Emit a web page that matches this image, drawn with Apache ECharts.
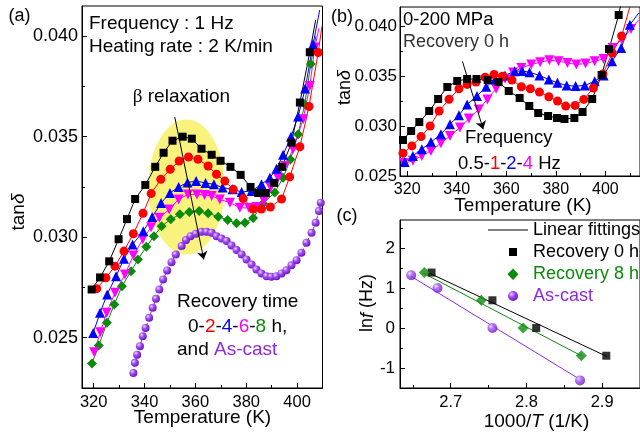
<!DOCTYPE html>
<html>
<head>
<meta charset="utf-8">
<script src="https://cdn.jsdelivr.net/npm/echarts@6/dist/echarts.min.js"></script>
<style>
html,body{margin:0;padding:0;background:#fff}
#chart{width:640px;height:432px}
</style>
</head>
<body>
<div id="chart"></div>
<script>
// ---------- Panel (a): tanδ vs temperature at 1 Hz, different recovery times ----------
const tempA0h = [319.2,322.5,326.1,329.8,333.1,336.3,340.3,344.2,347.5,351.0,355.0,358.6,362.4,366.4,369.9,373.8,377.8,381.7,384.7,387.7,391.0,394.1,397.8,401.1,405.0];
const tanA0h  = [0.0274,0.0280,0.0288,0.0299,0.0309,0.0319,0.0326,0.0335,0.0342,0.0348,0.0350,0.0349,0.0344,0.0341,0.0338,0.0335,0.0331,0.0325,0.0322,0.0322,0.0327,0.0335,0.0347,0.0367,0.0392];
const tailA0h = [407.3,0.0408];

const tempA2h = [321.2,324.8,328.4,331.9,335.6,339.4,342.6,346.4,350.1,353.6,357.3,361.0,365.0,368.3,371.6,374.9,378.8,382.7,386.0,389.5,393.9,397.1,401.1,404.7,408.3];
const tanA2h  = [0.02744,0.02798,0.02856,0.02931,0.03017,0.03119,0.03217,0.03288,0.03338,0.03379,0.03399,0.03388,0.03354,0.03313,0.03279,0.03238,0.03192,0.03140,0.03140,0.03150,0.03190,0.03300,0.03450,0.03650,0.03919];
const tailA2h = [409.8,0.0405];

const tempA4h = [319.8,322.5,325.3,328.8,331.9,335.3,339.5,343.0,346.5,350.0,353.4,356.9,360.3,364.0,367.3,370.7,374.6,378.2,382.1,386.0,389.3,391.9,394.5,397.6,400.4,403.2,406.3];
const tanA4h  = [0.02524,0.02624,0.02715,0.02806,0.02893,0.02964,0.0303,0.0310,0.0317,0.0322,0.0325,0.03272,0.03279,0.03270,0.03263,0.03247,0.03238,0.03225,0.03230,0.03263,0.03296,0.0334,0.0341,0.0350,0.0360,0.0374,0.0396];
const tailA4h = [408.9,0.0413];

const tempA6h = [320.2,322.6,325.1,328.4,332.3,335.6,339.3,342.6,345.8,349.7,353.4,357.1,360.6,363.6,366.4,369.6,373.6,377.5,381.1,384.0,387.0,389.6,392.5,395.2,398.4,402.4,405.0,407.0];
const tanA6h  = [0.02428,0.02527,0.02624,0.02724,0.02815,0.02909,0.0299,0.0305,0.03097,0.03138,0.03188,0.03213,0.03213,0.0321,0.03205,0.03188,0.03172,0.03147,0.03145,0.0315,0.0318,0.03247,0.03296,0.03354,0.03437,0.03587,0.03752,0.03944];
const tailA6h = [408.6,0.0404];

const tempA8h = [319.3,322.0,325.2,328.1,331.1,334.7,337.4,340.7,343.7,346.7,350.3,353.9,357.6,361.5,365.0,369.0,372.7,376.2,379.5,382.7,386.6,391.2,394.5,397.4,400.4,403.0,405.4];
const tanA8h  = [0.02372,0.02461,0.02574,0.02665,0.02756,0.02831,0.02889,0.02953,0.03005,0.03055,0.03089,0.03114,0.03125,0.0313,0.03119,0.03102,0.03085,0.03069,0.03072,0.03095,0.03168,0.03222,0.03296,0.03387,0.03512,0.03661,0.03861];
const tailA8h = [407.4,0.0400];

const tempAcast = [335.6,336.2,337.1,338.2,339.3,340.4,341.8,343.2,344.5,345.8,347.3,348.9,350.6,352.3,354.6,356.3,358.1,360.2,362.4,364.4,366.4,368.3,370.3,372.3,374.2,376.2,378.2,380.1,382.1,384.0,386.0,388.0,389.9,391.9,393.9,395.8,397.8,399.8,401.7,403.7,405.7,407.3,408.6,409.3];
const tanAcast  = [0.02325,0.02375,0.02416,0.02458,0.02507,0.02549,0.02599,0.02649,0.02694,0.0274,0.0279,0.02835,0.02876,0.02914,0.02956,0.02986,0.03005,0.03017,0.03027,0.03027,0.03022,0.03005,0.02993,0.02981,0.02959,0.02936,0.02914,0.02889,0.02864,0.02839,0.0282,0.02806,0.02803,0.02806,0.0282,0.02836,0.0286,0.02886,0.02923,0.02973,0.03022,0.03072,0.0313,0.03172];

// highlighted β-relaxation region: centre [T, tanδ] and half-widths
const betaCentre = [356.5,0.0325];
const betaHalf   = [15.0,0.00336];
const betaArrow  = [[351.9,0.03597],[363.3,0.02889]];

const ticksA_T   = [320,340,360,380,400];
const minorA_T   = [330,350,370,390];
const ticksA_tan = [0.025,0.030,0.035,0.040];
const minorA_tan = [0.0275,0.0325,0.0375];

// ---------- Panel (b): 0-200 MPa, recovery 0 h, different frequencies ----------
const tempB05 = [318.3,321.6,324.9,328.9,332.5,336.2,340.2,344.2,348.0,352.5,356.9,361.0,365.4,369.3,372.9,376.9,380.5,383.5,387.5,390.8,394.7,398.5,401.5,405.4];
const tanB05  = [0.0286,0.0295,0.0304,0.0315,0.0327,0.0339,0.0345,0.0347,0.0347,0.0346,0.0344,0.0335,0.0328,0.0320,0.0313,0.0310,0.0308,0.0307,0.0308,0.0314,0.0327,0.0351,0.0377,0.0411];
const tailB05 = [406.5,0.0425];

const tempB1 = [318.3,321.9,325.6,329.3,332.9,336.9,340.9,344.2,347.8,351.5,355.1,358.5,362.3,366.1,369.7,373.4,377.2,380.7,384.0,387.8,391.3,395.2,399.0,402.8,406.6,410.0];
const tanB1  = [0.02728,0.02801,0.02894,0.0300,0.0315,0.03267,0.03373,0.03416,0.03439,0.03488,0.03515,0.03498,0.0346,0.03393,0.03373,0.03339,0.03293,0.03249,0.03199,0.03206,0.03266,0.0338,0.0352,0.0373,0.0390,0.0420];

const tempB2 = [319.0,322.3,325.9,329.6,333.6,337.3,340.9,344.2,348.2,351.9,355.5,359.5,363.4,366.4,369.4,373.4,377.2,380.7,384.4,388.0,391.7,395.7,399.3,402.7,406.4,409.9];
const tanB2  = [0.02641,0.02701,0.02768,0.0284,0.02917,0.03017,0.03107,0.03216,0.03299,0.03392,0.03465,0.03505,0.03548,0.0355,0.03538,0.03505,0.03465,0.03432,0.03405,0.03399,0.03405,0.03448,0.03505,0.03647,0.03781,0.04013];
const tailB2 = [413.5,0.0413];

const tempB4 = [318.7,322.3,325.9,329.6,333.6,337.3,341.3,344.9,348.9,352.4,355.9,359.5,362.8,366.1,370.1,373.7,377.4,381.1,384.7,388.3,392.0,395.7,399.3,402.9,406.6,410.4];
const tanB4  = [0.02629,0.02652,0.02701,0.02751,0.02828,0.029,0.02984,0.03074,0.03166,0.03266,0.03373,0.03472,0.03535,0.03581,0.03615,0.03638,0.03658,0.03648,0.03631,0.03615,0.03625,0.03648,0.03671,0.03781,0.03864,0.0397];
const tailB4 = [413.5,0.0406];

const freqArrow = [[342.3,0.03647],[350.7,0.02967]];

const ticksB_T   = [320,340,360,380,400];
const minorB_T   = [330,350,370,390,410];
const ticksB_tan = [0.025,0.030,0.035,0.040];
const minorB_tan = [0.0275,0.0325,0.0375];

// ---------- Panel (c): Arrhenius plot, ln f vs 1000/T ----------
const invT0h   = [2.6747,2.7551,2.8129,2.9055];
const lnf0h    = [1.386,0.693,0,-0.693];
const invT8h   = [2.6652,2.7404,2.7956,2.8725];
const lnf8h    = [1.386,0.693,0,-0.693];
const invTcast = [2.6478,2.6825,2.7551,2.8708];
const lnfcast  = [1.32,1.0,0,-1.31];

const fit0h   = [[2.672,1.37],[2.906,-0.71]];
const fit8h   = [[2.664,1.37],[2.873,-0.70]];
const fitCast = [[2.647,1.30],[2.871,-1.29]];

const ticksC_x = [2.7,2.8,2.9];
const minorC_x = [2.65,2.75,2.85];
const ticksC_y = [-1,0,1,2];
const minorC_y = [-0.5,0.5,1.5,2.5];

// ---------- styling ----------
const FONT = 'Liberation Sans, Arial, sans-serif';
const C = {
  black:'#000000', red:'#ff0000', blue:'#0000ff', magenta:'#ff00ff',
  green:'#0c8a0c', purple:'#8a2be2', yellow:'#f9f37e'
};
const sphere = {
  type:'radial', x:0.35, y:0.32, r:0.7,
  colorStops:[{offset:0,color:'#eedcff'},{offset:0.4,color:'#a252f2'},{offset:1,color:'#6c14c4'}]
};

function pairs(xs, ys){ return xs.map((x,i)=>[x, ys[i]]); }
function withTail(xs, ys, tail){
  const d = pairs(xs, ys);
  if (tail) d.push({value: tail, symbol:'none'});
  return d;
}

// main axis (line, major ticks, labels) plus an overlaid axis carrying the minor ticks
function axisPair(dim, grid, min, max, majors, minors, fmt, fontSize, margin){
  const base = {type:'value', gridIndex:grid, min:min, max:max,
    position: dim === 'x' ? 'bottom' : 'left', offset:0, splitLine:{show:false}};
  return [
    Object.assign({}, base, {
      axisLine:{show:true, onZero:false, lineStyle:{color:'#000', width:1}},
      axisTick:{show:true, inside:true, length:5, customValues:majors, lineStyle:{color:'#000', width:1}},
      axisLabel:{show:true, customValues:majors, formatter:fmt, color:'#000',
        fontFamily:FONT, fontSize:fontSize, margin:margin}
    }),
    Object.assign({}, base, {
      axisLine:{show:false, onZero:false},
      axisTick:{show:true, inside:true, length:3, customValues:minors, lineStyle:{color:'#000', width:1}},
      axisLabel:{show:false}
    })
  ];
}

const fmt3 = v => v.toFixed(3);
const fmtInt = v => String(Math.round(v));
const fmt1 = v => v.toFixed(1);
const fmtC = v => (v < 0 ? '-' : '') + Math.abs(Math.round(v));

const xAxes = [].concat(
  axisPair('x', 0, 315.4, 410, ticksA_T, minorA_T, fmtInt, 16.5, 6),
  axisPair('x', 1, 317.1, 414, ticksB_T, minorB_T, fmtInt, 16, 6),
  axisPair('x', 2, 2.633, 2.95, ticksC_x, minorC_x, fmt1, 16.5, 6)
);
const yAxes = [].concat(
  axisPair('y', 0, 0.0225, 0.0415, ticksA_tan, minorA_tan, fmt3, 18, 4),
  axisPair('y', 1, 0.025, 0.0419, ticksB_tan, minorB_tan, fmt3, 17, 3),
  axisPair('y', 2, -1.5, 2.7, ticksC_y, minorC_y, fmtC, 17, 5)
);

function lineSeries(name, data, axis, color, symbol, size, extra){
  return Object.assign({
    name:name, type:'line', xAxisIndex:axis.x, yAxisIndex:axis.y, data:data,
    symbol:symbol, symbolSize:size, showSymbol:true, clip:true,
    lineStyle:{color:color, width:1}, itemStyle:{color:color, borderWidth:0},
    emphasis:{disabled:true}, animation:false, z:3
  }, extra || {});
}

const AX_A = {x:0, y:0}, AX_B = {x:2, y:2}, AX_C = {x:4, y:4};

const series = [
  // yellow β-relaxation highlight
  {
    type:'custom', xAxisIndex:0, yAxisIndex:0, z:1, animation:false, silent:true,
    data:[[betaCentre[0], betaCentre[1], betaHalf[0], betaHalf[1]]],
    encode:{x:0, y:1},
    renderItem:function(params, api){
      const c = api.coord([api.value(0), api.value(1)]);
      const s = api.size([api.value(2), api.value(3)]);
      const pts = [];
      for (let i = 0; i < 90; i++){
        const a = i / 90 * Math.PI * 2;
        pts.push([c[0] + s[0] * Math.cos(a), c[1] + s[1] * Math.sin(a)]);
      }
      return {type:'polygon', shape:{points:pts}, style:{fill:C.yellow}};
    }
  },
  lineSeries('As-cast (a)', pairs(tempAcast, tanAcast), AX_A, C.purple, 'circle', 8,
    {lineStyle:{color:C.purple, width:1, type:[4,2]}, itemStyle:{color:sphere}}),
  lineSeries('8 h', withTail(tempA8h, tanA8h, tailA8h), AX_A, C.green, 'diamond', 10),
  lineSeries('6 h', withTail(tempA6h, tanA6h, tailA6h), AX_A, C.magenta, 'triangle', 10, {symbolRotate:180}),
  lineSeries('4 h', withTail(tempA4h, tanA4h, tailA4h), AX_A, C.blue, 'triangle', 10),
  lineSeries('2 h', withTail(tempA2h, tanA2h, tailA2h), AX_A, C.red, 'circle', 9),
  lineSeries('0 h', withTail(tempA0h, tanA0h, tailA0h), AX_A, C.black, 'rect', 8),
  {
    type:'lines', coordinateSystem:'cartesian2d', xAxisIndex:0, yAxisIndex:0, z:6, animation:false,
    symbol:['none','arrow'], symbolSize:8,
    lineStyle:{color:'#000', width:1, opacity:1},
    data:[{coords:betaArrow}]
  },

  // panel (b)
  lineSeries('4 Hz', withTail(tempB4, tanB4, tailB4), AX_B, C.magenta, 'triangle', 10, {symbolRotate:180}),
  lineSeries('2 Hz', withTail(tempB2, tanB2, tailB2), AX_B, C.blue, 'triangle', 10),
  lineSeries('1 Hz', pairs(tempB1, tanB1), AX_B, C.red, 'circle', 9),
  lineSeries('0.5 Hz', withTail(tempB05, tanB05, tailB05), AX_B, C.black, 'rect', 8),
  {
    type:'lines', coordinateSystem:'cartesian2d', xAxisIndex:2, yAxisIndex:2, z:6, animation:false,
    symbol:['none','arrow'], symbolSize:8,
    lineStyle:{color:'#000', width:1, opacity:1},
    data:[{coords:freqArrow}]
  },

  // panel (c): linear fittings and measured points
  lineSeries('Linear fittings', fit0h, AX_C, C.black, 'none', 0, {z:2}),
  lineSeries('fit 8 h', fit8h, AX_C, C.green, 'none', 0, {z:2}),
  lineSeries('fit as-cast', fitCast, AX_C, C.purple, 'none', 0, {z:2}),
  {type:'scatter', name:'Recovery 0 h', xAxisIndex:4, yAxisIndex:4, symbol:'rect', symbolSize:8,
    itemStyle:{color:C.black}, data:pairs(invT0h, lnf0h), z:4, animation:false},
  {type:'scatter', name:'Recovery 8 h', xAxisIndex:4, yAxisIndex:4, symbol:'diamond', symbolSize:11,
    itemStyle:{color:C.green}, data:pairs(invT8h, lnf8h), z:4, animation:false},
  {type:'scatter', name:'As-cast', xAxisIndex:4, yAxisIndex:4, symbol:'circle', symbolSize:10,
    itemStyle:{color:sphere}, data:pairs(invTcast, lnfcast), z:4, animation:false}
];

function txt(x, y, text, size, opts){
  const o = opts || {};
  return {
    type:'text', x:x, y:y, z:100, rotation:o.rotation || 0, silent:true,
    style:Object.assign({
      text:text, fill:o.fill || '#000', font:(o.style || '') + ' ' + size + 'px ' + FONT,
      align:o.align || 'left', verticalAlign:'middle'
    }, o.rich ? {rich:o.rich} : {})
  };
}
const sz = s => ({fontSize:s, fontFamily:FONT});
function colored(size){
  return {
    k:Object.assign({fill:'#000'}, sz(size)),
    r:Object.assign({fill:C.red}, sz(size)),
    b:Object.assign({fill:C.blue}, sz(size)),
    m:Object.assign({fill:C.magenta}, sz(size)),
    g:Object.assign({fill:C.green}, sz(size)),
    p:Object.assign({fill:C.purple}, sz(size)),
    it:Object.assign({fill:'#000', fontStyle:'italic'}, sz(size)),
    gr:{fill:'#000', fontSize:size, fontFamily:'Liberation Serif, Times New Roman, serif'}
  };
}

const graphics = [
  // panel (a)
  txt(19.5, 16, '(a)', 18, {align:'center'}),
  txt(89, 24, 'Frequency : 1 Hz', 19),
  txt(89, 46.5, 'Heating rate : 2 K/min', 19),
  txt(181.5, 97, '{gr|β} relaxation', 19, {align:'center', rich:colored(19)}),
  txt(177, 301.5, 'Recovery time', 19),
  txt(188, 326.5, '{k|0-}{r|2}{k|-}{b|4}{k|-}{m|6}{k|-}{g|8}{k| h,}', 19, {rich:colored(19)}),
  txt(177, 350, '{k|and }{p|As-cast}', 19, {rich:colored(19)}),
  txt(19, 212, 'tan{it|δ}', 19, {align:'center', rotation:Math.PI/2, rich:colored(19)}),
  txt(202.5, 418, 'Temperature (K)', 19, {align:'center'}),

  // panel (b)
  txt(342, 17, '(b)', 18, {align:'center'}),
  txt(403, 20, '0-200 MPa', 18.5),
  txt(403, 42.5, 'Recovery 0 h', 18, {fill:'#333'}),
  txt(465, 137.5, 'Frequency', 18.5),
  txt(458, 163.5, '{k|0.5-}{r|1}{k|-}{b|2}{k|-}{m|4}{k| Hz}', 18.5, {rich:colored(18.5)}),
  txt(345, 87.5, 'tan{it|δ}', 18, {align:'center', rotation:Math.PI/2, rich:colored(18)}),
  txt(523, 205.5, 'Temperature (K)', 19, {align:'center'}),

  // panel (c)
  txt(347, 216.5, '(c)', 18, {align:'center'}),
  txt(367.5, 303, '{k|ln}{it|f }{k|(Hz)}', 18, {align:'center', rotation:Math.PI/2, rich:colored(18)}),
  txt(536.5, 421.5, '{k|1000/}{it|T}{k| (1/K)}', 19, {align:'center', rich:colored(19)}),

  // legend of panel (c)
  {type:'line', z:100, silent:true, shape:{x1:488, y1:230, x2:528, y2:230}, style:{stroke:'#000', lineWidth:1}},
  txt(533, 230, 'Linear fittings', 18),
  {type:'rect', z:100, silent:true, shape:{x:509, y:248, width:8, height:8}, style:{fill:'#000'}},
  txt(533, 252.5, 'Recovery 0 h', 18),
  {type:'polygon', z:100, silent:true, shape:{points:[[513,268.5],[518.5,274.3],[513,280],[507.5,274.3]]}, style:{fill:C.green}},
  txt(533, 274.5, 'Recovery 8 h', 18, {fill:C.green}),
  {type:'circle', z:100, silent:true, shape:{cx:513, cy:296, r:5}, style:{fill:sphere}},
  txt(533, 296, 'As-cast', 18, {fill:C.purple})
];

const chart = echarts.init(document.getElementById('chart'), null, {renderer:'canvas', width:640, height:432});
chart.setOption({
  backgroundColor:'#ffffff',
  animation:false,
  grid:[
    {left:82, top:6, width:240.5, height:382, show:true, borderColor:'#000', borderWidth:1, backgroundColor:'transparent', containLabel:false},
    {left:400, top:7, width:243, height:169, show:true, borderColor:'#000', borderWidth:1, backgroundColor:'transparent', containLabel:false},
    {left:400, top:220, width:243, height:168, show:true, borderColor:'#000', borderWidth:1, backgroundColor:'transparent', containLabel:false}
  ],
  xAxis:xAxes,
  yAxis:yAxes,
  series:series,
  graphic:graphics
});
</script>
</body>
</html>
